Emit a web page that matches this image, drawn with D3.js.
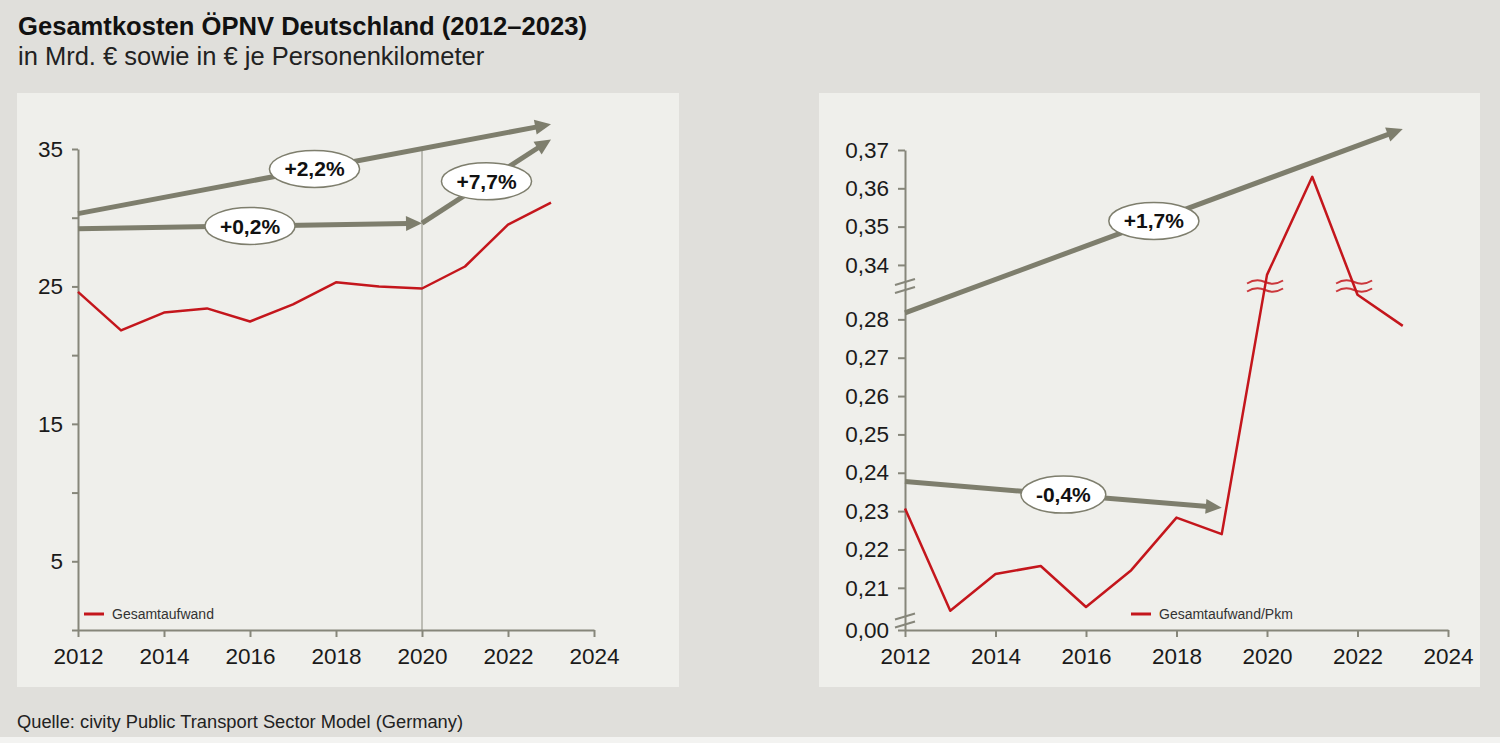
<!DOCTYPE html>
<html>
<head>
<meta charset="utf-8">
<script src="https://cdn.jsdelivr.net/npm/d3@7"></script>
<style>
  html, body { margin: 0; padding: 0; background: #e0dfdb; }
  svg { display: block; font-family: "Liberation Sans", Arial, sans-serif; }
</style>
</head>
<body>
<svg id="chart" width="1500" height="743"></svg>
<script>
// ---------- DATA ----------
const years = [2012, 2013, 2014, 2015, 2016, 2017, 2018, 2019, 2020, 2021, 2022, 2023];
const totalCost = [24.6, 21.8, 23.1, 23.4, 22.45, 23.7, 25.3, 25.0, 24.85, 26.45, 29.5, 31.1];   // Mrd. €
const costPerPkm = [0.2307, 0.204, 0.2136, 0.2157, 0.205, 0.2146, 0.2283, 0.224, 0.3374, 0.363, 0.2864, 0.2783]; // € / Pkm

const xTicks = [2012, 2014, 2016, 2018, 2020, 2022, 2024];
const leftYTicks = [0, 5, 10, 15, 20, 25, 30, 35];
const leftYLabels = [5, 15, 25, 35];
const rightYTicks = [0.00, 0.21, 0.22, 0.23, 0.24, 0.25, 0.26, 0.27, 0.28, 0.34, 0.35, 0.36, 0.37];
// axis break: values between these are cut out of the right axis
const lowBreak = [0.0, 0.199];
const highBreak = [0.2887, 0.3345];

const leftTrends = [
  { label: "+2,2%", x0: 2012, y0: 30.3, x1: 2023, y1: 36.8 },
  { label: "+0,2%", x0: 2012, y0: 29.2, x1: 2020, y1: 29.6 },
  { label: "+7,7%", x0: 2020, y0: 29.6, x1: 2023, y1: 35.7 }
];
const rightTrends = [
  { label: "+1,7%", x0: 2012, y0: 0.2817, x1: 2023, y1: 0.3755 },
  { label: "-0,4%", x0: 2012, y0: 0.2377, x1: 2019, y1: 0.2309 }
];
const markerYear = 2020;

const title = "Gesamtkosten ÖPNV Deutschland (2012–2023)";
const subtitle = "in Mrd. € sowie in € je Personenkilometer";
const source = "Quelle: civity Public Transport Sector Model (Germany)";
const leftLegend = "Gesamtaufwand";
const rightLegend = "Gesamtaufwand/Pkm";

// ---------- STYLE ----------
const RED = "#c4161c";
const AXIS = "#86867a";
const ARROW = "#7e7e6d";
const PANEL = "#efefeb";
const TXT = "#1a1a1a";

const svg = d3.select("#chart");
svg.append("rect").attr("x", 0).attr("y", 0).attr("width", 1500).attr("height", 743).attr("fill", "#e0dfdb");
svg.append("rect").attr("x", 0).attr("y", 737).attr("width", 1500).attr("height", 6).attr("fill", "#f3f3f1");

// Panels
svg.append("rect").attr("x", 17).attr("y", 93).attr("width", 662).attr("height", 594).attr("fill", PANEL);
svg.append("rect").attr("x", 819).attr("y", 93).attr("width", 661).attr("height", 594).attr("fill", PANEL);

// Titles
svg.append("text").attr("x", 18).attr("y", 35).attr("font-size", 25.6).attr("font-weight", "bold")
  .attr("fill", "#111").text(title);
svg.append("text").attr("x", 18).attr("y", 65).attr("font-size", 25.5).attr("fill", "#222").text(subtitle);
svg.append("text").attr("x", 17).attr("y", 728).attr("font-size", 18.3).attr("fill", "#222").text(source);

const fmtComma = d => d3.format(".2f")(d).replace(".", ",");

// ---------- LEFT CHART ----------
const xL = d3.scaleLinear().domain([2012, 2024]).range([78, 594]);
const yL = d3.scaleLinear().domain([0, 35]).range([630, 149]);

function styleAxis(g) {
  g.selectAll(".domain").attr("stroke", AXIS).attr("stroke-width", 2);
  g.selectAll(".tick line").attr("stroke", AXIS).attr("stroke-width", 2);
  g.selectAll(".tick text").attr("fill", TXT).attr("font-size", 22.5)
    .attr("font-family", "Liberation Sans, Arial, sans-serif");
}

const gL = svg.append("g");
// vertical marker line at 2020
gL.append("line").attr("x1", xL(markerYear)).attr("x2", xL(markerYear))
  .attr("y1", yL(35)).attr("y2", yL(0)).attr("stroke", "#8a8a7e").attr("stroke-width", 1);

gL.append("g").attr("transform", `translate(${xL(2012)},0)`)
  .call(d3.axisLeft(yL).tickValues(leftYTicks).tickSize(6).tickSizeOuter(0).tickPadding(9)
    .tickFormat(d => leftYLabels.includes(d) ? d : ""))
  .call(styleAxis);
gL.append("g").attr("transform", `translate(0,${yL(0)})`)
  .call(d3.axisBottom(xL).tickValues(xTicks).tickSize(7).tickSizeOuter(0).tickPadding(11).tickFormat(d3.format("d")))
  .call(styleAxis);

gL.append("path").datum(years.map((y, i) => [y, totalCost[i]]))
  .attr("fill", "none").attr("stroke", RED).attr("stroke-width", 2.5).attr("stroke-linejoin", "round")
  .attr("d", d3.line().x(d => xL(d[0])).y(d => yL(d[1])));

// ---------- RIGHT CHART ----------
const xR = d3.scaleLinear().domain([2012, 2024]).range([905, 1448]);
const yR = d3.scaleLinear()
  .domain([lowBreak[0], lowBreak[1], highBreak[0], highBreak[1], 0.37])
  .range([630, 630, 286, 286, 150]);

const gR = svg.append("g");
gR.append("g").attr("transform", `translate(${xR(2012)},0)`)
  .call(d3.axisLeft(yR).tickValues(rightYTicks).tickSize(7).tickSizeOuter(0).tickPadding(9).tickFormat(fmtComma))
  .call(styleAxis);
gR.append("g").attr("transform", `translate(0,${yR(0)})`)
  .call(d3.axisBottom(xR).tickValues(xTicks).tickSize(7).tickSizeOuter(0).tickPadding(11).tickFormat(d3.format("d")))
  .call(styleAxis);

// axis break marks on y axis
function axisBreak(g, x, yc) {
  [-4, 4].forEach(off => {
    g.append("line").attr("x1", x - 10).attr("y1", yc + off + 3).attr("x2", x + 10).attr("y2", yc + off - 3)
      .attr("stroke", AXIS).attr("stroke-width", 2);
  });
}
axisBreak(gR, xR(2012), 286);
axisBreak(gR, xR(2012), 620.5);

gR.append("path").datum(years.map((y, i) => [y, costPerPkm[i]]))
  .attr("fill", "none").attr("stroke", RED).attr("stroke-width", 2.5).attr("stroke-linejoin", "round")
  .attr("d", d3.line().x(d => xR(d[0])).y(d => yR(d[1])));

// wavy break marks where the series crosses the axis break
const yBreakPx = yR(highBreak[0]);
for (let i = 0; i < years.length - 1; i++) {
  const a = costPerPkm[i], b = costPerPkm[i + 1];
  const crosses = (a <= highBreak[0] && b >= highBreak[1]) || (a >= highBreak[1] && b <= highBreak[0]);
  if (!crosses) continue;
  const xa = xR(years[i]), ya = yR(a), xb = xR(years[i + 1]), yb = yR(b);
  const t = (yBreakPx - ya) / (yb - ya);
  const xc = xa + t * (xb - xa);
  [-4, 4].forEach(off => {
    const yc = yBreakPx + off;
    gR.append("path")
      .attr("d", `M${xc - 18},${yc + 1.5} Q${xc - 9},${yc - 4} ${xc},${yc} T${xc + 18},${yc - 1.5}`)
      .attr("fill", "none").attr("stroke", RED).attr("stroke-width", 2).attr("opacity", 0.85);
  });
}

// ---------- TREND ARROWS ----------
function drawArrow(g, x, y, t) {
  const X0 = x(t.x0), Y0 = y(t.y0), X1 = x(t.x1), Y1 = y(t.y1);
  const ang = Math.atan2(Y1 - Y0, X1 - X0);
  const headL = 16, headW = 7.5;
  const bx = X1 - headL * Math.cos(ang), by = Y1 - headL * Math.sin(ang);
  g.append("line").attr("x1", X0).attr("y1", Y0).attr("x2", bx + 2 * Math.cos(ang)).attr("y2", by + 2 * Math.sin(ang))
    .attr("stroke", ARROW).attr("stroke-width", 5);
  const px = -Math.sin(ang), py = Math.cos(ang);
  g.append("polygon")
    .attr("points", [[X1, Y1], [bx + px * headW, by + py * headW], [bx - px * headW, by - py * headW]].map(p => p.join(",")).join(" "))
    .attr("fill", ARROW);
}
function drawLabel(g, x, y, t) {
  const cx = (x(t.x0) + x(t.x1)) / 2, cy = (y(t.y0) + y(t.y1)) / 2;
  const lg = g.append("g");
  const el = lg.append("ellipse").attr("cx", cx).attr("cy", cy).attr("ry", 18.5)
    .attr("fill", "#ffffff").attr("stroke", ARROW).attr("stroke-width", 1.5);
  const tx = lg.append("text").attr("x", cx).attr("y", cy).attr("dy", "0.36em").attr("text-anchor", "middle")
    .attr("font-size", 21).attr("font-weight", "bold").attr("fill", "#111").text(t.label);
  const w = tx.node().getComputedTextLength();
  el.attr("rx", (w + 30) / 2);
}
const arrowsL = svg.append("g"), labelsL = svg.append("g");
leftTrends.forEach(t => drawArrow(arrowsL, xL, yL, t));
leftTrends.forEach(t => drawLabel(labelsL, xL, yL, t));
const arrowsR = svg.append("g"), labelsR = svg.append("g");
rightTrends.forEach(t => drawArrow(arrowsR, xR, yR, t));
rightTrends.forEach(t => drawLabel(labelsR, xR, yR, t));

// ---------- LEGENDS ----------
function legend(x, y, label) {
  svg.append("line").attr("x1", x).attr("x2", x + 20).attr("y1", y).attr("y2", y)
    .attr("stroke", RED).attr("stroke-width", 3);
  svg.append("text").attr("x", x + 28).attr("y", y + 5).attr("font-size", 14).attr("fill", "#333").text(label);
}
legend(84, 614, leftLegend);
legend(1131, 614, rightLegend);
</script>
</body>
</html>
